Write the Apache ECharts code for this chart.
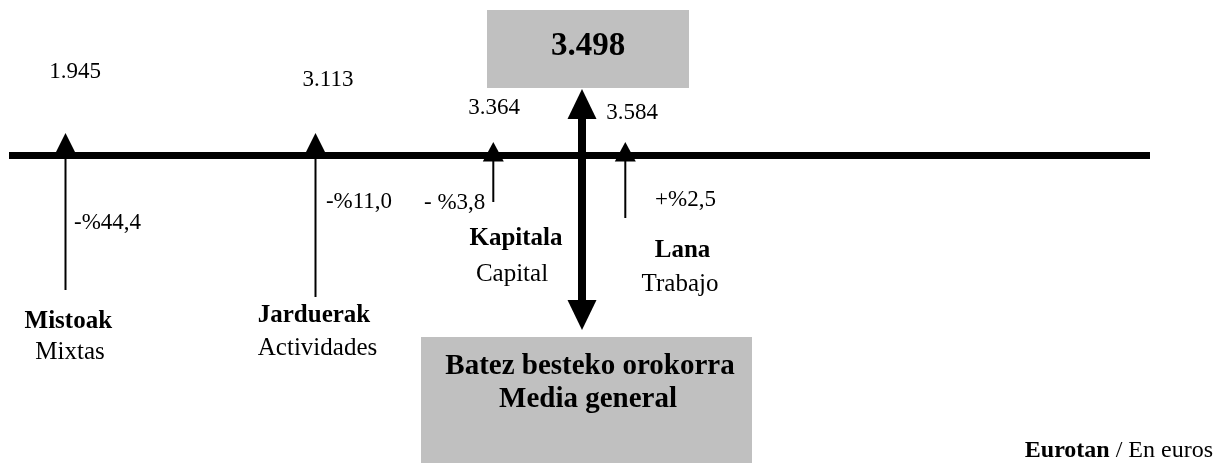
<!DOCTYPE html>
<html>
<head>
<meta charset="utf-8">
<script src="https://cdn.jsdelivr.net/npm/echarts@6/dist/echarts.min.js"></script>
<style>
html,body{margin:0;padding:0;background:#fff;}
#chart{width:1224px;height:468px;}
</style>
</head>
<body>
<div id="chart"></div>
<script>
// ---------- data ----------
const categoriesEu = ['Mistoak', 'Jarduerak', 'Kapitala', 'Lana'];
const categoriesEs = ['Mixtas', 'Actividades', 'Capital', 'Trabajo'];
const values = [1945, 3113, 3364, 3584];
const changeLabels = ['-%44,4', '-%11,0', '- %3,8', '+%2,5'];
const averageValue = 3498;
const averageLabelEu = 'Batez besteko orokorra';
const averageLabelEs = 'Media general';
const unitEu = 'Eurotan';
const unitEs = 'En euros';

// ---------- layout (schematic diagram, in canvas units) ----------
const FONT = '"Liberation Serif", "Times New Roman", serif';
const TEXT_DY = 2;
const layout = {
  axisY: 155.5, lineFrom: 9, lineTo: 1150, lineWidth: 7,
  markers: [
    {x: 65.5,  tip: 133, base: 152,   half: 9.5,  stemFrom: 152, stemTo: 290, val: [75, 69.5],   chg: [107.5, 220.8], name: [68.3, 319.5], sub: [70, 350]},
    {x: 315.5, tip: 133, base: 152,   half: 9.5,  stemFrom: 152, stemTo: 297, val: [328, 77.5],  chg: [359, 200],     name: [314, 313.3],  sub: [317.5, 346.7]},
    {x: 493.3, tip: 142, base: 161.5, half: 10.5, stemFrom: 160, stemTo: 202, val: [494, 105.8], chg: [454.7, 200.8], name: [516, 236.7],  sub: [512, 272.5]},
    {x: 625.3, tip: 142, base: 161.5, half: 10.5, stemFrom: 160, stemTo: 218, val: [632, 110.8], chg: [685.5, 197.5], name: [682.5, 249],  sub: [680, 282.5]}
  ],
  avg: {
    x: 582, shaftW: 8, topTip: 89, topBase: 119, botBase: 300, botTip: 330, half: 14.5,
    topBox: [487, 10, 689, 88], topText: [588, 44.5],
    botBox: [421, 337, 752, 463], botText1: [590, 365], botText2: [588, 398]
  }
};

function fmtThousands(v) {
  return String(v).replace(/\B(?=(\d{3})+(?!\d))/g, '.');
}

const chart = echarts.init(document.getElementById('chart'), null, {renderer: 'canvas'});

function txt(p, text, font) {
  return {type: 'text', style: {x: p[0], y: p[1] + TEXT_DY, text: text, font: font, fill: '#000', align: 'center', verticalAlign: 'middle'}};
}

const option = {
  animation: false,
  backgroundColor: '#ffffff',
  grid: {left: 0, right: 0, top: 0, bottom: 0, containLabel: false},
  xAxis: {type: 'value', min: 0, max: 1224, show: false},
  yAxis: {type: 'value', min: 0, max: 468, inverse: true, show: false},
  series: [
    {
      type: 'line',
      data: [[layout.lineFrom, layout.axisY], [layout.lineTo, layout.axisY]],
      symbol: 'none',
      lineStyle: {color: '#000', width: layout.lineWidth, cap: 'butt'},
      silent: true,
      z: 1
    },
    {
      type: 'custom',
      z: 2,
      silent: true,
      data: categoriesEu.map((n, i) => [layout.markers[i].x, i]),
      renderItem: function (params, api) {
        const i = params.dataIndex;
        const m = layout.markers[i];
        const c = (x, y) => api.coord([x, y]);
        const tip = c(m.x, m.tip), bl = c(m.x - m.half, m.base), br = c(m.x + m.half, m.base);
        const s1 = c(m.x, m.stemFrom), s2 = c(m.x, m.stemTo);
        return {
          type: 'group',
          children: [
            {type: 'line', shape: {x1: s1[0], y1: s1[1], x2: s2[0], y2: s2[1]}, style: {stroke: '#000', lineWidth: 2}},
            {type: 'polygon', shape: {points: [tip, bl, br]}, style: {fill: '#000'}},
            txt(c(m.val[0], m.val[1]), fmtThousands(values[i]), '23px ' + FONT),
            txt(c(m.chg[0], m.chg[1]), changeLabels[i], '23px ' + FONT),
            txt(c(m.name[0], m.name[1]), categoriesEu[i], 'bold 25px ' + FONT),
            txt(c(m.sub[0], m.sub[1]), categoriesEs[i], '25px ' + FONT)
          ]
        };
      }
    },
    {
      type: 'custom',
      z: 3,
      silent: true,
      data: [[layout.avg.x, averageValue]],
      renderItem: function (params, api) {
        const a = layout.avg;
        const c = (x, y) => api.coord([x, y]);
        const tb0 = c(a.topBox[0], a.topBox[1]), tb1 = c(a.topBox[2], a.topBox[3]);
        const bb0 = c(a.botBox[0], a.botBox[1]), bb1 = c(a.botBox[2], a.botBox[3]);
        const sh0 = c(a.x - a.shaftW / 2, a.topBase - 1), sh1 = c(a.x + a.shaftW / 2, a.botBase + 1);
        return {
          type: 'group',
          children: [
            {type: 'rect', shape: {x: tb0[0], y: tb0[1], width: tb1[0] - tb0[0], height: tb1[1] - tb0[1]}, style: {fill: '#c0c0c0'}},
            {type: 'rect', shape: {x: bb0[0], y: bb0[1], width: bb1[0] - bb0[0], height: bb1[1] - bb0[1]}, style: {fill: '#c0c0c0'}},
            {type: 'rect', shape: {x: sh0[0], y: sh0[1], width: sh1[0] - sh0[0], height: sh1[1] - sh0[1]}, style: {fill: '#000'}},
            {type: 'polygon', shape: {points: [c(a.x, a.topTip), c(a.x - a.half, a.topBase), c(a.x + a.half, a.topBase)]}, style: {fill: '#000'}},
            {type: 'polygon', shape: {points: [c(a.x, a.botTip), c(a.x - a.half, a.botBase), c(a.x + a.half, a.botBase)]}, style: {fill: '#000'}},
            txt(c(a.topText[0], a.topText[1]), fmtThousands(averageValue), 'bold 33px ' + FONT),
            txt(c(a.botText1[0], a.botText1[1]), averageLabelEu, 'bold 29px ' + FONT),
            txt(c(a.botText2[0], a.botText2[1]), averageLabelEs, 'bold 29px ' + FONT)
          ]
        };
      }
    }
  ],
  graphic: [
    {
      type: 'text',
      right: 11,
      top: 439,
      silent: true,
      style: {
        text: '{b|' + unitEu + '} / ' + unitEs,
        font: '24px ' + FONT,
        fill: '#000',
        rich: {b: {fontWeight: 'bold', fontFamily: FONT, fontSize: 24, fill: '#000'}}
      }
    }
  ]
};
chart.setOption(option);
</script>
</body>
</html>
